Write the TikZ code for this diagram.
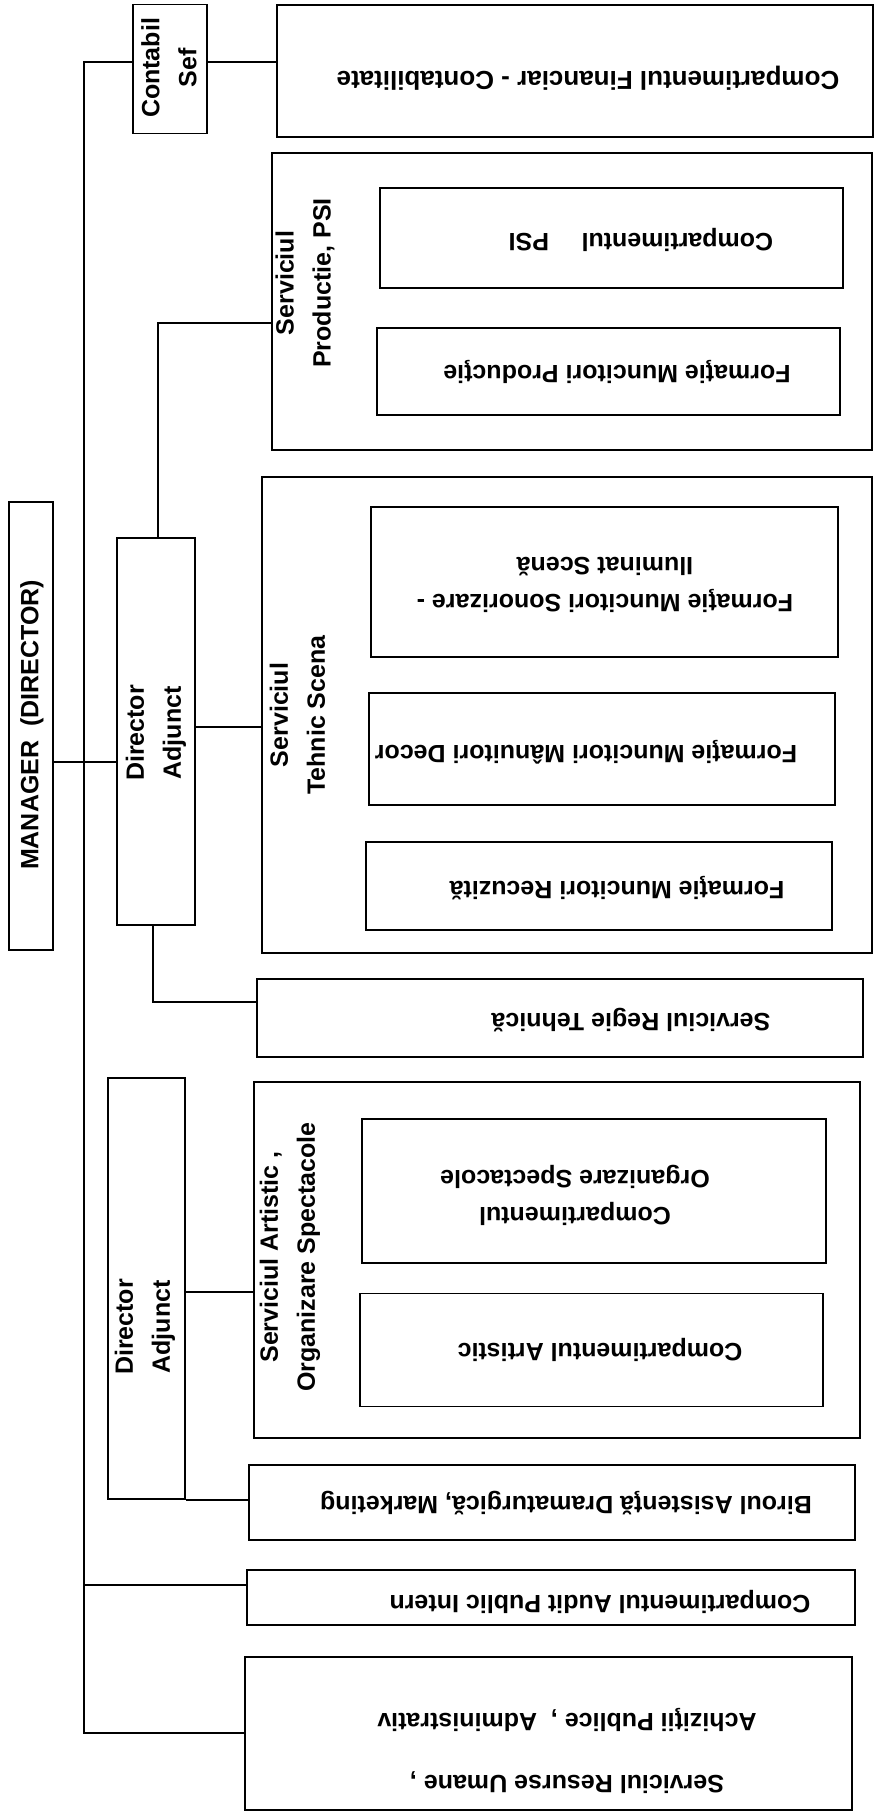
\documentclass[tikz,border=0pt]{standalone}
\usepackage{fontspec}
\setmainfont{Liberation Sans}
\begin{document}
\begin{tikzpicture}[x=1pt,y=-1pt,
  box/.style={draw, line width=1.8pt, inner sep=0pt, rectangle},
  lbl/.style={font=\fontsize{25}{37}\selectfont\bfseries, inner sep=0pt, align=center},
  up/.style={lbl, rotate=90},
  down/.style={lbl, rotate=180},
  link/.style={line width=1.8pt}]
\useasboundingbox (0,0) rectangle (874,1813);
\fill[white] (0,0) rectangle (874,1813);
% boxes
\node[box, minimum width=74pt, minimum height=129pt] (contabil) at (170,69) {};
\node[box, minimum width=596pt, minimum height=132pt] (fin) at (575,71) {};
\node[box, minimum width=600pt, minimum height=297pt] (prod) at (572,301.5) {};
\node[box, minimum width=463pt, minimum height=100pt] (psi) at (611.5,238) {};
\node[box, minimum width=463pt, minimum height=87pt] (fprod) at (608.5,371.5) {};
\node[box, minimum width=44pt, minimum height=448pt] (manager) at (31,726) {};
\node[box, minimum width=78pt, minimum height=387pt] (da1) at (156,731.5) {};
\node[box, minimum width=610pt, minimum height=476pt] (tehnic) at (567,715) {};
\node[box, minimum width=467pt, minimum height=150pt] (sonor) at (604.5,582) {};
\node[box, minimum width=466pt, minimum height=112pt] (decor) at (602,749) {};
\node[box, minimum width=466pt, minimum height=88pt] (recuz) at (599,886) {};
\node[box, minimum width=606pt, minimum height=78pt] (regie) at (560,1018) {};
\node[box, minimum width=77pt, minimum height=421pt] (da2) at (146.5,1288.5) {};
\node[box, minimum width=606pt, minimum height=356pt] (artistic) at (557,1260) {};
\node[box, minimum width=464pt, minimum height=144pt] (corg) at (594,1191) {};
\node[box, minimum width=463pt, minimum height=113pt] (cart) at (591.5,1350) {};
\node[box, minimum width=606pt, minimum height=75pt] (birou) at (552,1502.5) {};
\node[box, minimum width=608pt, minimum height=55pt] (audit) at (551,1597.5) {};
\node[box, minimum width=607pt, minimum height=153pt] (ru) at (548.5,1733.5) {};
% labels
\node[up] (contabil-t) at (169,68) {Contabil\\Sef};
\node[down, font=\fontsize{26}{37}\selectfont\bfseries] (fin-t) at (588,78) {Compartimentul Financiar - Contabilitate};
\node[up] (prod-t) at (305,283) {Serviciul\\Productie, PSI};
\node[down] (psi-t) at (641,240) {Compartimentul\hspace{1.3em}PSI};
\node[down] (fprod-t) at (617,372) {Formaţie Muncitori Producţie};
\node[up] (manager-t) at (32,725) {MANAGER\ \ (DIRECTOR)};
\node[up] (da1-t) at (156,733) {Director\\Adjunct};
\node[up] (tehnic-t) at (297.5,715) {Serviciul\\Tehnic Scena};
\node[down] (sonor-t) at (605,585) {Formaţie Muncitori Sonorizare -\\Iluminat Scenă};
\node[down] (decor-t) at (586,752) {Formaţie Muncitori Mânuitori Decor};
\node[down] (recuz-t) at (617,888) {Formaţie Muncitori Recuzită};
\node[down] (regie-t) at (631,1020) {Serviciul Regie Tehnică};
\node[up] (da2-t) at (145,1327) {Director\\Adjunct};
\node[up] (artistic-t) at (290,1257) {Serviciul Artistic ,\\Organizare Spectacole};
\node[down] (corg-t) at (575,1195) {Compartimentul\\Organizare Spectacole};
\node[down] (cart-t) at (600,1350) {Compartimentul Artistic};
\node[down] (birou-t) at (566,1503) {Biroul Asistenţă Dramaturgică, Marketing};
\node[down] (audit-t) at (600,1602) {Compartimentul Audit Public Intern};
\node[down] (ru-t) at (567,1751) {Serviciul Resurse Umane ,\\[25pt]Achiziţii Publice\ , \ Administrativ};
% connector coordinates
\coordinate (tTop) at (84,62);
\coordinate (tAud) at (84,1585);
\coordinate (tBot) at (84,1733);
\coordinate (yMD) at (0,762);
\coordinate (yDT) at (0,727);
\coordinate (pJ) at (158,323);
\coordinate (rJ) at (153,1002);
\coordinate (yDA) at (0,1292);
% connectors
\draw[link] (tTop -| contabil.west) -- (tTop) -- (tBot) -- (tBot -| ru.west);
\draw[link] (contabil.east |- tTop) -- (fin.west |- tTop);
\draw[link] (tAud) -- (tAud -| audit.west);
\draw[link] (manager.east |- yMD) -- (da1.west |- yMD);
\draw[link] (da1.east |- yDT) -- (tehnic.west |- yDT);
\draw[link] (da1.north -| pJ) -- (pJ) -- (pJ -| prod.west);
\draw[link] (da1.south -| rJ) -- (rJ) -- (rJ -| regie.west);
\draw[link] (da2.east |- yDA) -- (artistic.west |- yDA);
\draw[link] (da2.south east) -- (da2.south east -| birou.west);
\end{tikzpicture}
\end{document}
